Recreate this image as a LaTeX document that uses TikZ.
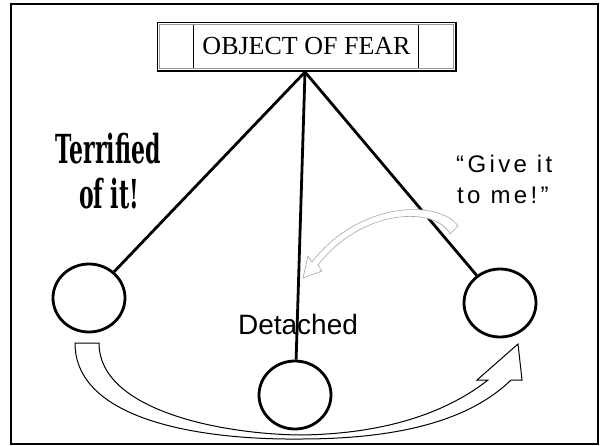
\documentclass[tikz,border=0pt]{standalone}
\usepackage{fontspec}
\setmainfont{Liberation Serif}
\newfontfamily\arialf{Liberation Sans}
\newfontfamily\spacedf[LetterSpace=14]{Liberation Sans}
\newfontfamily\decof{DejaVu Serif}
\usetikzlibrary{shapes.geometric}
\begin{document}
\begin{tikzpicture}[x=1pt,y=-1pt,
  bob/.style={draw,line width=2.8pt,ellipse,minimum width=72pt,minimum height=68pt,inner sep=0pt},
  rod/.style={line width=2.8pt},
  blockarrow/.style={draw=black,line width=1pt,fill=white,line join=miter},
  grayarrow/.style={draw=black!35,line width=0.6pt,fill=white},
  deco/.style={font=\decof\bfseries\fontsize{40}{40}\selectfont,inner sep=0pt,anchor=base},
  give/.style={font=\spacedf\fontsize{24}{24}\selectfont,inner sep=0pt,anchor=base west}]
\useasboundingbox (0,0) rectangle (600,445);
\draw[line width=2.5pt] (11,4) rectangle (598,444);

% top box
\node[draw,line width=0.8pt,fill=white,minimum width=299pt,minimum height=49pt,inner sep=0pt,
      font=\fontsize{26}{26}\selectfont] (box) at (306.5,46.5) {OBJECT OF FEAR};
\draw[black!40,line width=0.8pt] ([xshift=3pt,yshift=-3pt]box.north west) rectangle ([xshift=-3pt,yshift=3pt]box.south east);
\draw[line width=2pt] (box.south west) -- (box.south east) -- (box.north east);
\draw[line width=1pt] ([xshift=37pt,yshift=-3pt]box.north west) -- ([xshift=37pt,yshift=3pt]box.south west)
                      ([xshift=-38pt,yshift=-3pt]box.north east) -- ([xshift=-38pt,yshift=3pt]box.south east);

\coordinate (pivot) at (305,72);
\node[bob] (l) at (89,298) {};
\node[bob] (m) at (295,395) {};
\node[bob] (r) at (500,303) {};
\draw[rod] (pivot) -- (l);
\draw[rod] (pivot) -- (m);
\draw[rod] (pivot) -- (r);

% texts
\node[deco] (t1) at (108,163) {\scalebox{0.55}[1]{Terrified}};
\node[deco] (t2) at (109,208) {\scalebox{0.55}[1]{of it!}};
\node[give] (g1) at (456,172) {“Give it};
\node[give] (g2) at (457,203) {to me!”};
\node[font=\arialf\fontsize{28}{28}\selectfont,inner sep=0pt,anchor=base] (det) at (298,334) {Detached};

% gray curved arrow
\draw[grayarrow] (458,226) .. controls (440,200) and (360,200) .. (312,262)
  -- (308,256) -- (303,278) -- (322,271) -- (318,265)
  .. controls (362,208) and (436,206) .. (450,234) -- cycle;

% bottom block arrow
\draw[blockarrow] (75,343) -- (99,343) .. controls (99,410) and (220,434) .. (300,435)
  .. controls (390,434) and (450,410) .. (488,380) -- (477,380) -- (518,344) -- (522,380) -- (511,380)
  .. controls (470,420) and (400,439) .. (300,439) .. controls (200,440) and (75,420) .. cycle;
\end{tikzpicture}
\end{document}
